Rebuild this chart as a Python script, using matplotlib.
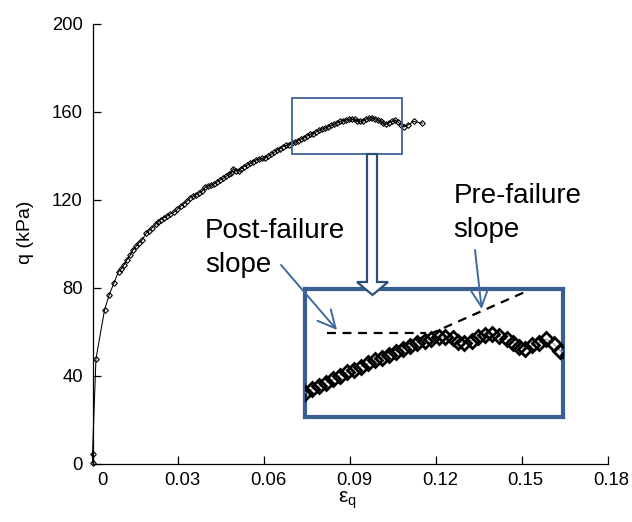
import matplotlib
matplotlib.use("Agg")
import matplotlib.pyplot as plt
from matplotlib.patches import Rectangle, Polygon, FancyArrowPatch
from matplotlib.lines import Line2D
from matplotlib.transforms import ScaledTranslation

plt.rcParams['font.family'] = ['Liberation Sans', 'DejaVu Sans']

# ---- data ----
strain = [0.0000, 0.0000, 0.0012, 0.0042, 0.0058, 0.0075, 0.0091, 0.0100, 0.0110, 0.0120,
          0.0131, 0.0141, 0.0152, 0.0162, 0.0173, 0.0187, 0.0197, 0.0208, 0.0222, 0.0229,
          0.0239, 0.0250, 0.0260, 0.0271, 0.0285, 0.0295, 0.0309, 0.0320, 0.0330, 0.0341,
          0.0351, 0.0361, 0.0372, 0.0382, 0.0393, 0.0403, 0.0414, 0.0424, 0.0435, 0.0445,
          0.0456, 0.0466, 0.0477, 0.0485, 0.0492, 0.0501, 0.0510, 0.0519, 0.0529, 0.0539,
          0.0550, 0.0561, 0.0571, 0.0581, 0.0592, 0.0602, 0.0613, 0.0623, 0.0634, 0.0644,
          0.0655, 0.0665, 0.0676, 0.0686, 0.0697, 0.0707, 0.0718, 0.0728, 0.0739, 0.0749,
          0.0759, 0.0770, 0.0780, 0.0791, 0.0801, 0.0812, 0.0822, 0.0833, 0.0843, 0.0854,
          0.0864, 0.0875, 0.0885, 0.0896, 0.0906, 0.0917, 0.0925, 0.0934, 0.0945, 0.0955,
          0.0965, 0.0976, 0.0986, 0.0997, 0.1007, 0.1016, 0.1025, 0.1035, 0.1046, 0.1056,
          0.1067, 0.1077, 0.1088, 0.1102, 0.1121, 0.1152]
q_kpa = [0.5, 4.5, 47.7, 70.0, 76.8, 82.3, 87.5, 88.6, 90.5, 92.7,
         94.8, 97.3, 98.9, 100.5, 101.8, 104.8, 105.9, 107.3, 109.3, 110.0,
         111.1, 112.0, 112.7, 113.6, 114.5, 115.7, 117.3, 118.4, 119.5, 120.9,
         121.6, 122.5, 123.2, 123.9, 125.7, 126.4, 126.8, 127.3, 128.2, 129.1,
         129.8, 130.7, 131.6, 132.5, 134.3, 133.2, 133.4, 134.3, 135.2, 135.7,
         136.6, 137.5, 138.2, 138.6, 138.9, 139.3, 139.8, 140.7, 141.6, 142.7,
         143.4, 144.3, 144.8, 145.2, 145.7, 146.4, 147.0, 147.7, 148.4, 149.1,
         149.8, 150.2, 150.9, 151.6, 152.3, 152.7, 153.2, 153.9, 154.5, 155.0,
         155.7, 156.1, 156.4, 156.8, 156.8, 156.6, 155.9, 155.7, 156.1, 156.8,
         157.3, 157.5, 157.0, 156.4, 155.7, 154.8, 154.5, 155.2, 155.7, 156.4,
         155.5, 154.1, 153.2, 154.1, 155.7, 154.9]

x_ticks = [0, 0.03, 0.06, 0.09, 0.12, 0.15, 0.18]
x_tick_labels = ['0', '0.03', '0.06', '0.09', '0.12', '0.15', '0.18']
y_ticks = [0, 40, 80, 120, 160, 200]
y_tick_labels = ['0', '40', '80', '120', '160', '200']

zoom_x = (0.0697, 0.1081)
zoom_y = (140.9, 166.4)

W, H = 632, 522
fig = plt.figure(figsize=(W / 100, H / 100), dpi=100)


def fx(px):
    return px / W


def fy(py):
    return 1 - py / H


ax = fig.add_axes([fx(92.5), fy(464), (608 - 92.5) / W, (464 - 24) / H])
ax.plot(strain, q_kpa, color='black', lw=0.75, marker='D', ms=2.9,
        mfc='none', mec='black', mew=0.8, clip_on=False, zorder=3)
ax.set_xlim(0, 0.18)
ax.set_ylim(0, 200)
ax.set_xticks(x_ticks)
ax.set_xticklabels(x_tick_labels)
ax.set_yticks(y_ticks)
ax.set_yticklabels(y_tick_labels)
for s in ['top', 'right']:
    ax.spines[s].set_visible(False)
for s in ['left', 'bottom']:
    ax.spines[s].set_linewidth(0.9)
ax.tick_params(direction='in', length=5.5, width=0.9, labelsize=13.3)
ax.tick_params(axis='y', pad=7)
ax.tick_params(axis='x', pad=6)
for i, lab in enumerate(ax.get_xticklabels()):
    dx = 10 / 100 if i == 0 else 3.6 / 100
    lab.set_transform(lab.get_transform() + ScaledTranslation(dx, 0, fig.dpi_scale_trans))

fig.text(fx(25), fy(232), 'q (kPa)', rotation=90, ha='center', va='center', fontsize=14)
fig.text(fx(347), fy(503), r'$\mathregular{\varepsilon_q}$', ha='center', va='baseline', fontsize=15)

box_col = '#3E6496'
ax.add_patch(Rectangle((zoom_x[0], zoom_y[0]), zoom_x[1] - zoom_x[0], zoom_y[1] - zoom_y[0],
                       fill=False, ec=box_col, lw=1.3, zorder=4))

# inset
ins = fig.add_axes([fx(305), fy(417), (563 - 305) / W, (417 - 289) / H])
ins.plot(strain, q_kpa, color='#999999', lw=0.8, marker='D', ms=7.6,
         mfc='none', mec='black', mew=2.0, zorder=3)
ins.set_xlim(*zoom_x)
ins.set_ylim(*zoom_y)
ins.set_xticks([])
ins.set_yticks([])
for s in ins.spines.values():
    s.set_linewidth(3.0)
    s.set_edgecolor('#395F91')

ins.add_line(Line2D([0.085, 0.47], [0.656, 0.656], transform=ins.transAxes,
                    color='black', lw=1.6, dashes=(4, 3), clip_on=False, zorder=2))
ins.add_line(Line2D([0.318, 0.846], [0.50, 0.971], transform=ins.transAxes,
                    color='black', lw=1.6, dashes=(4, 3), clip_on=False, zorder=2))

# block arrow
pts = [(367, 154), (377, 154), (377, 282), (388, 282), (372.5, 295), (357, 282), (367, 282)]
fig.add_artist(Polygon([(fx(a), fy(b)) for a, b in pts], closed=True,
                       transform=fig.transFigure, fc='white', ec='#2F4F7A', lw=1.6, zorder=5))

# texts
fs = 20
fig.text(fx(205), fy(238.3), 'Post-failure', fontsize=fs, va='baseline', ha='left')
fig.text(fx(205), fy(271.7), 'slope', fontsize=fs, va='baseline', ha='left')
fig.text(fx(453.5), fy(203.3), 'Pre-failure', fontsize=fs, va='baseline', ha='left')
fig.text(fx(453.5), fy(236.7), 'slope', fontsize=fs, va='baseline', ha='left')

arr_col = '#3F6AA0'
for (a, b) in [((281, 265), (337, 330)), ((475, 250), (481.7, 309))]:
    fig.add_artist(FancyArrowPatch((fx(a[0]), fy(a[1])), (fx(b[0]), fy(b[1])),
                                   transform=fig.transFigure,
                                   arrowstyle='->,head_length=0.7,head_width=0.35',
                                   mutation_scale=18, color=arr_col, lw=1.4, zorder=6,
                                   shrinkA=0, shrinkB=0))

fig.savefig('out.png', dpi=100)
